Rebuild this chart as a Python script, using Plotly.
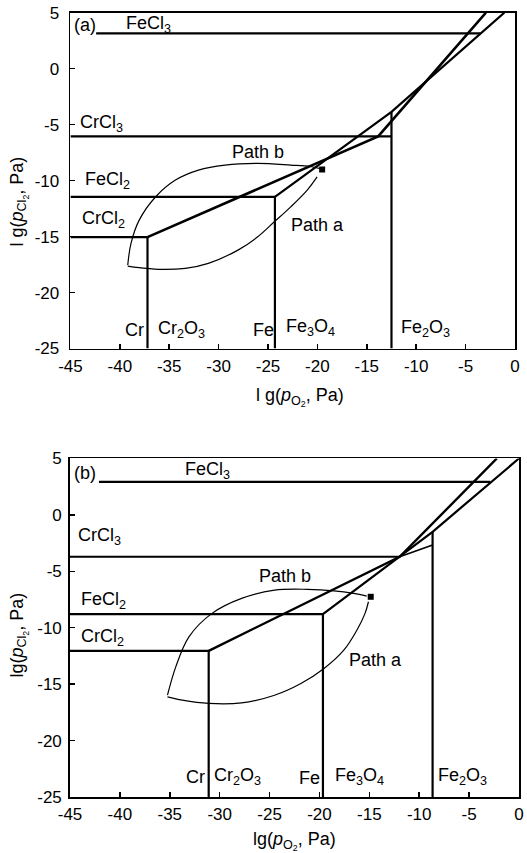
import plotly.graph_objects as go

# ---------------- tick labels ----------------
X_TICKS = [-45, -40, -35, -30, -25, -20, -15, -10, -5, 0]
X_TICK_TEXT = ["-45", "-40", "-35", "-30", "-25", "-20", "-15", "-10", "-5", "0"]
Y_TICKS = [-25, -20, -15, -10, -5, 0, 5]
Y_TICK_TEXT = ["-25", "-20", "-15", "-10", "-5", "0", "5"]

# ---------------- panel (a) boundaries ----------------
a_cr_vert_x = -37.2      # Cr | Cr2O3
a_fe_vert_x = -24.3      # Fe | Fe3O4
a_fe2o3_vert_x = -12.5   # Fe3O4 | Fe2O3
a_fe2o3_top_y = -3.85
a_crcl2_y = -15.05
a_fecl2_y = -11.45
a_crcl3_y = -6.05
a_fecl3_y = 3.16
a_fecl3_x = [-42.4, -3.5]
a_cr_diag_x = [-37.2, -13.85, -2.94]
a_cr_diag_y = [-15.05, -6.05, 5.0]
a_fe_diag_x = [-24.3, -12.5, -1.08]
a_fe_diag_y = [-11.45, -3.85, 5.0]
a_path_b_x = [-39.2, -38.87, -38.04, -36.37, -34.37, -32.04, -29.36, -26.03, -22.70, -20.70, -19.6]
a_path_b_y = [-17.55, -15.61, -13.53, -11.44, -9.95, -9.06, -8.61, -8.46, -8.61, -8.74, -8.95]
a_path_a_x = [-39.2, -38.37, -36.04, -33.37, -31.04, -28.04, -26.04, -24.36, -22.70, -21.03, -20.03]
a_path_a_y = [-17.64, -17.75, -17.93, -17.84, -17.39, -16.21, -15.02, -13.68, -12.34, -10.84, -9.66]
a_point = (-19.52, -9.0)

# ---------------- panel (b) boundaries ----------------
b_cr_vert_x = -31.1
b_fe_vert_x = -19.65
b_fe2o3_vert_x = -8.66
b_fe2o3_top_y = -1.5
b_crcl2_y = -12.05
b_fecl2_y = -8.8
b_crcl3_y = -3.71
b_crcl3_end_x = -11.96
b_fecl3_y = 2.93
b_fecl3_x = [-42.1, -2.88]
b_cr_diag_x = [-31.1, -11.96, -2.22]
b_cr_diag_y = [-12.05, -3.71, 5.0]
b_short_x = [-11.96, -8.66]
b_short_y = [-3.71, -2.68]
b_fe_diag_x = [-19.65, -8.66, 0.0]
b_fe_diag_y = [-8.8, -1.5, 5.0]
b_path_b_x = [-35.23, -34.40, -33.08, -30.77, -27.80, -24.50, -21.20, -18.55, -16.57, -15.26]
b_path_b_y = [-15.98, -13.47, -10.81, -8.73, -7.40, -6.67, -6.60, -6.73, -6.96, -7.20]
b_path_a_x = [-35.23, -33.74, -31.10, -27.80, -24.50, -21.86, -19.54, -17.56, -16.25, -15.43, -15.09]
b_path_a_y = [-16.13, -16.42, -16.71, -16.66, -15.98, -14.94, -13.61, -11.99, -10.22, -8.73, -7.70]
b_point = (-14.86, -7.26)

FONT = "Liberation Sans, Arial, sans-serif"
XMIN, YMIN = -45, -25

fig = go.Figure()


def line(xs, ys, ax, width=2.2):
    fig.add_trace(go.Scatter(x=xs, y=ys, mode="lines", xaxis=ax[0], yaxis=ax[1],
                             line=dict(color="black", width=width),
                             showlegend=False, hoverinfo="skip"))


def curve(xs, ys, ax):
    fig.add_trace(go.Scatter(x=xs, y=ys, mode="lines", xaxis=ax[0], yaxis=ax[1],
                             line=dict(color="black", width=1.2, shape="spline", smoothing=1.0),
                             showlegend=False, hoverinfo="skip"))


def point(p, ax):
    fig.add_trace(go.Scatter(x=[p[0]], y=[p[1]], mode="markers", xaxis=ax[0], yaxis=ax[1],
                             marker=dict(symbol="square", size=6, color="black"),
                             showlegend=False, hoverinfo="skip"))


# panel (a)
A = ("x", "y")
line([XMIN, a_cr_vert_x, a_cr_vert_x], [a_crcl2_y, a_crcl2_y, YMIN], A)
line([XMIN, a_fe_vert_x, a_fe_vert_x], [a_fecl2_y, a_fecl2_y, YMIN], A)
line([XMIN, a_fe2o3_vert_x], [a_crcl3_y, a_crcl3_y], A)
line([a_fe2o3_vert_x, a_fe2o3_vert_x], [YMIN, a_fe2o3_top_y], A)
line(a_fecl3_x, [a_fecl3_y, a_fecl3_y], A)
line(a_cr_diag_x, a_cr_diag_y, A, 2.6)
line(a_fe_diag_x, a_fe_diag_y, A)
curve(a_path_b_x, a_path_b_y, A)
curve(a_path_a_x, a_path_a_y, A)
point(a_point, A)

# panel (b)
B = ("x2", "y2")
line([XMIN, b_cr_vert_x, b_cr_vert_x], [b_crcl2_y, b_crcl2_y, YMIN], B)
line([XMIN, b_fe_vert_x, b_fe_vert_x], [b_fecl2_y, b_fecl2_y, YMIN], B)
line([XMIN, b_crcl3_end_x], [b_crcl3_y, b_crcl3_y], B)
line([b_fe2o3_vert_x, b_fe2o3_vert_x], [YMIN, b_fe2o3_top_y], B)
line(b_fecl3_x, [b_fecl3_y, b_fecl3_y], B)
line(b_cr_diag_x, b_cr_diag_y, B, 2.4)
line(b_short_x, b_short_y, B, 1.6)
line(b_fe_diag_x, b_fe_diag_y, B)
curve(b_path_b_x, b_path_b_y, B)
curve(b_path_a_x, b_path_a_y, B)
point(b_point, B)

axis_common = dict(showgrid=False, zeroline=False, showline=True, mirror=True,
                   linecolor="black", linewidth=1.8, ticks="inside", ticklen=5, tickwidth=1.5,
                   tickcolor="black", ticklabeloverflow="allow",
                   tickfont=dict(family=FONT, size=17, color="black"))

xa = dict(axis_common, range=[-45, 0], tickvals=X_TICKS, ticktext=X_TICK_TEXT, ticklabelstandoff=1)
ya = dict(axis_common, range=[-25, 5], tickvals=Y_TICKS, ticktext=Y_TICK_TEXT, ticklabelstandoff=6)

fig.update_layout(
    width=527, height=853,
    margin=dict(l=70, r=3, t=12, b=56),
    paper_bgcolor="white", plot_bgcolor="white",
    font=dict(family=FONT, color="black", size=18),
    xaxis=dict(xa, domain=[0.001, 0.991], anchor="y"),
    yaxis=dict(ya, domain=[0.5713, 0.9991], anchor="x"),
    xaxis2=dict(xa, domain=[0.0, 1.0], anchor="y2"),
    yaxis2=dict(ya, domain=[0.0, 0.4313], anchor="x2", ticklabelstandoff=3),
)

labels_a = [
    ("(a)", -44.85, 3.9), ("FeCl<sub>3</sub>", -39.54, 3.95), ("CrCl<sub>3</sub>", -44.25, -4.9),
    ("FeCl<sub>2</sub>", -43.75, -10.0), ("CrCl<sub>2</sub>", -44.05, -13.5),
    ("Path b", -28.86, -7.42), ("Path a", -22.83, -14.0),
    ("Cr", -39.68, -23.38), ("Cr<sub>2</sub>O<sub>3</sub>", -36.34, -23.3), ("Fe", -26.76, -23.36),
    ("Fe<sub>3</sub>O<sub>4</sub>", -23.43, -23.15), ("Fe<sub>2</sub>O<sub>3</sub>", -11.72, -23.25),
]
labels_b = [
    ("(b)", -44.78, 3.67), ("FeCl<sub>3</sub>", -33.63, 3.95), ("CrCl<sub>3</sub>", -44.35, -1.95),
    ("FeCl<sub>2</sub>", -44.12, -7.6), ("CrCl<sub>2</sub>", -44.12, -10.85),
    ("Path b", -26.26, -5.41), ("Path a", -17.24, -12.87),
    ("Cr", -33.61, -23.25), ("Cr<sub>2</sub>O<sub>3</sub>", -30.8, -23.22), ("Fe", -22.29, -23.29),
    ("Fe<sub>3</sub>O<sub>4</sub>", -18.67, -23.22), ("Fe<sub>2</sub>O<sub>3</sub>", -8.33, -23.22),
]
for txt, x, y in labels_a:
    fig.add_annotation(text=txt, x=x, y=y, xref="x", yref="y", xanchor="left", yanchor="middle",
                       showarrow=False, font=dict(family=FONT, size=18, color="black"))
for txt, x, y in labels_b:
    fig.add_annotation(text=txt, x=x, y=y, xref="x2", yref="y2", xanchor="left", yanchor="middle",
                       showarrow=False, font=dict(family=FONT, size=18, color="black"))

titles = [
    ("l g(<i>p</i><sub>O<sub>2</sub></sub>, Pa)", 0.513, 0.5096, 0),
    ("l g(<i>p</i><sub>Cl<sub>2</sub></sub>, Pa)", -0.1145, 0.758, -90),
    ("lg(<i>p</i><sub>O<sub>2</sub></sub>, Pa)", 0.501, -0.0555, 0),
    ("lg(<i>p</i><sub>Cl<sub>2</sub></sub>, Pa)", -0.1145, 0.2064, -90),
]
for txt, x, y, ang in titles:
    fig.add_annotation(text=txt, x=x, y=y, xref="paper", yref="paper", xanchor="center",
                       yanchor="middle", textangle=ang, showarrow=False,
                       font=dict(family=FONT, size=18, color="black"))

# remove the browser's default 8 px page margin so the figure starts at the window corner
fig.write_html("out.html",
               config={"displayModeBar": False, "staticPlot": True},
               post_script="document.body.style.margin='0';document.body.style.overflow='hidden';")
